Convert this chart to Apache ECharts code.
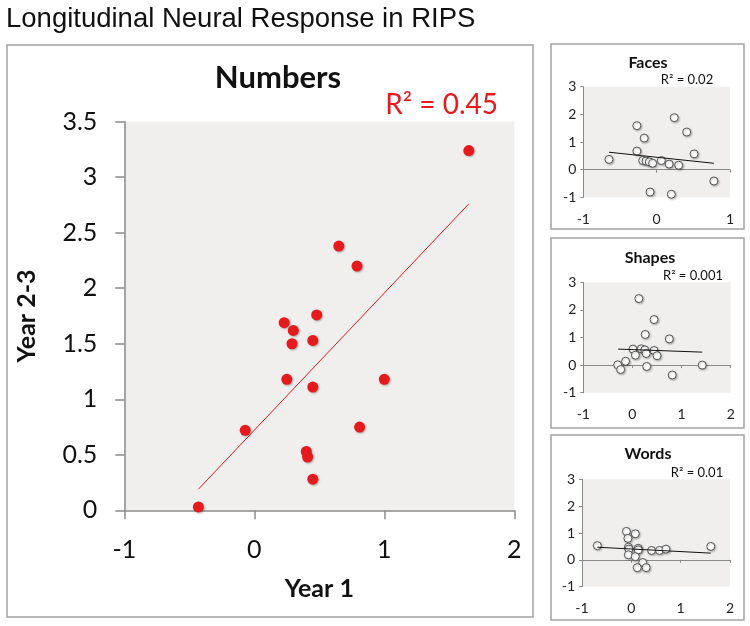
<!DOCTYPE html>
<html>
<head>
<meta charset="utf-8">
<script src="https://cdn.jsdelivr.net/npm/echarts@6/dist/echarts.min.js"></script>
<style>html,body{margin:0;padding:0;background:#fff;}#c{width:750px;height:626px;}</style>
</head>
<body>
<div id="c"></div>
<script>
// ---- data ----
const mainTitle = 'Longitudinal Neural Response in RIPS';
const panelNames = ['Numbers', 'Faces', 'Shapes', 'Words'];
const panelR2 = ['R\u00B2 = 0.45', 'R\u00B2 = 0.02', 'R\u00B2 = 0.001', 'R\u00B2 = 0.01'];
const xAxisName = 'Year 1';
const yAxisName = 'Year 2-3';

const numbersX = [1.65, 0.65, 0.79, 0.48, 0.23, 0.30, 0.29, 0.45, 0.25, 0.45, 1.00, -0.07, 0.81, 0.40, 0.41, 0.45, -0.43];
const numbersY = [3.24, 2.38, 2.20, 1.76, 1.69, 1.62, 1.50, 1.53, 1.18, 1.11, 1.18, 0.72, 0.75, 0.53, 0.48, 0.28, 0.03];
const numbersFitX = [-0.43, 1.65];
const numbersFitY = [0.19, 2.76];

const facesX = [-0.65, -0.27, -0.27, -0.17, -0.19, -0.145, -0.10, -0.055, 0.064, 0.17, 0.30, 0.24, 0.41, 0.51, 0.78, -0.09, 0.20];
const facesY = [0.37, 1.59, 0.67, 1.14, 0.33, 0.31, 0.28, 0.23, 0.33, 0.20, 0.16, 1.88, 1.36, 0.57, -0.41, -0.81, -0.89];
const facesFitX = [-0.65, 0.78];
const facesFitY = [0.63, 0.23];

const shapesX = [0.13, 0.44, 0.26, 0.75, 0.01, 0.18, 0.25, 0.44, 0.06, 0.28, 0.50, -0.30, -0.14, -0.24, 0.29, 0.81, 1.42];
const shapesY = [2.41, 1.65, 1.11, 0.95, 0.58, 0.59, 0.55, 0.53, 0.36, 0.42, 0.34, 0.01, 0.14, -0.16, -0.05, -0.36, 0.00];
const shapesFitX = [-0.29, 1.42];
const shapesFitY = [0.58, 0.47];

const wordsX = [-0.69, -0.10, 0.08, -0.07, -0.06, -0.05, -0.06, 0.14, 0.14, 0.08, 0.23, 0.12, 0.30, 0.41, 0.57, 0.70, 1.61];
const wordsY = [0.53, 1.06, 0.97, 0.80, 0.47, 0.40, 0.19, 0.43, 0.37, 0.12, -0.10, -0.29, -0.29, 0.35, 0.35, 0.40, 0.50];
const wordsFitX = [-0.69, 1.61];
const wordsFitY = [0.47, 0.25];

// axis ranges (tick labels come from these)
const mainXRange = [-1, 2, 1];
const mainYRange = [0, 3.5, 0.5];
const smallXRanges = [[-1, 1, 1], [-1, 2, 1], [-1, 2, 1]];
const smallYRange = [-1, 3, 1];

// ---- build ----
const pairs = (xs, ys) => xs.map((x, i) => [x, ys[i]]);
const FONT = 'Lato';
const AXC = '#8a8a8a';
const BG = '#f0efee';
const RED = '#e51a1c';

const grids = [
  { left: 124.3, top: 121.7, width: 390, height: 388.6 },
  { left: 583.3, top: 86.7, width: 146.7, height: 110.6 },
  { left: 583.3, top: 282.3, width: 147.4, height: 110.4 },
  { left: 582, top: 479.3, width: 148, height: 107.4 }
].map(g => Object.assign({ show: true, backgroundColor: BG, borderWidth: 0 }, g));

const xAxes = [];
const yAxes = [];
// main
xAxes.push({
  gridIndex: 0, type: 'value', min: mainXRange[0], max: mainXRange[1], interval: mainXRange[2],
  position: 'bottom',
  axisLine: { onZero: false, lineStyle: { color: AXC, width: 1.5 } },
  axisTick: { show: true, inside: false, length: 9, lineStyle: { color: AXC, width: 1.5 } },
  axisLabel: { fontFamily: FONT, fontSize: 25, color: '#111', margin: 27 },
  splitLine: { show: false },
  name: xAxisName, nameLocation: 'middle', nameGap: 66,
  nameTextStyle: { fontFamily: FONT, fontSize: 25, fontWeight: 'bold', color: '#111' }
});
yAxes.push({
  gridIndex: 0, type: 'value', min: mainYRange[0], max: mainYRange[1], interval: mainYRange[2],
  axisLine: { show: true, onZero: false, lineStyle: { color: AXC, width: 1.5 } },
  axisTick: { show: true, inside: false, length: 9, lineStyle: { color: AXC, width: 1.5 } },
  axisLabel: { fontFamily: FONT, fontSize: 25, color: '#111', margin: 27 },
  splitLine: { show: false },
  name: yAxisName, nameLocation: 'middle', nameGap: 85, nameRotate: 90,
  nameTextStyle: { fontFamily: FONT, fontSize: 25, fontWeight: 'bold', color: '#111' }
});
// small panels: label axis at bottom + zero line axis
for (let k = 0; k < 3; k++) {
  const gi = k + 1;
  const r = smallXRanges[k];
  xAxes.push({
    gridIndex: gi, type: 'value', min: r[0], max: r[1], interval: r[2], position: 'bottom',
    axisLine: { show: false, onZero: false },
    axisTick: { show: false },
    axisLabel: { fontFamily: FONT, fontSize: 14, color: '#222', margin: 15 },
    splitLine: { show: false }
  });
  xAxes.push({
    gridIndex: gi, type: 'value', min: r[0], max: r[1], interval: r[2], position: 'bottom',
    axisLine: { show: true, onZero: true, lineStyle: { color: AXC, width: 1 } },
    axisTick: { show: true, inside: false, length: 3, lineStyle: { color: AXC, width: 1 } },
    axisLabel: { show: false },
    splitLine: { show: false }
  });
  yAxes.push({
    gridIndex: gi, type: 'value', min: smallYRange[0], max: smallYRange[1], interval: smallYRange[2],
    axisLine: { show: true, onZero: false, lineStyle: { color: AXC, width: 1 } },
    axisTick: { show: true, inside: false, length: 3, lineStyle: { color: AXC, width: 1 } },
    axisLabel: { fontFamily: FONT, fontSize: 14, color: '#222', margin: 7 },
    splitLine: { show: false }
  });
}

const series = [];
series.push({
  type: 'line', xAxisIndex: 0, yAxisIndex: 0, data: pairs(numbersFitX, numbersFitY),
  symbol: 'none', lineStyle: { color: RED, width: 1 }, z: 2, silent: true, animation: false
});
series.push({
  type: 'scatter', xAxisIndex: 0, yAxisIndex: 0, data: pairs(numbersX, numbersY),
  symbol: 'circle', symbolSize: 11,
  itemStyle: { color: RED, opacity: 1, shadowBlur: 2, shadowColor: 'rgba(0,0,0,0.3)', shadowOffsetX: 1, shadowOffsetY: 1 },
  z: 3, animation: false
});
const smallSets = [
  [facesX, facesY, facesFitX, facesFitY],
  [shapesX, shapesY, shapesFitX, shapesFitY],
  [wordsX, wordsY, wordsFitX, wordsFitY]
];
smallSets.forEach((s, k) => {
  const xi = 1 + k * 2; // label axis index
  const yi = 1 + k;
  series.push({
    type: 'line', xAxisIndex: xi, yAxisIndex: yi, data: pairs(s[2], s[3]),
    symbol: 'none', lineStyle: { color: '#111', width: 1 }, z: 4, silent: true, animation: false
  });
  series.push({
    type: 'scatter', xAxisIndex: xi, yAxisIndex: yi, data: pairs(s[0], s[1]),
    symbol: 'circle', symbolSize: 8,
    itemStyle: { color: '#ffffff', opacity: 1, borderColor: '#555', borderWidth: 1, shadowBlur: 2, shadowColor: 'rgba(0,0,0,0.25)', shadowOffsetX: 1, shadowOffsetY: 1 },
    z: 3, animation: false
  });
});

const frame = (x, y, w, h, lw) => ({
  type: 'rect', shape: { x: x, y: y, width: w, height: h },
  style: { fill: 'none', stroke: '#a3a3a3', lineWidth: lw }, z: 0
});
const txt = (s, x, y, size, opts) => ({
  type: 'text', x: x, y: y, z: 10,
  style: Object.assign({ text: s, fontFamily: FONT, fontSize: size, fill: '#111', textAlign: 'center', textVerticalAlign: 'middle', align: 'center', verticalAlign: 'middle' }, opts || {})
});

const graphics = [
  frame(7, 45, 526, 572, 1.5),
  frame(551, 44, 193, 185, 1.5),
  frame(551, 238, 193, 190, 1.5),
  frame(551, 435, 193, 185, 1.5),
  txt(mainTitle, 6, 19, 27.5, { fontFamily: 'Liberation Sans', textAlign: 'left', align: 'left', fill: '#111' }),
  txt(panelNames[0], 278, 78, 31, { fontWeight: 'bold' }),
  txt(panelR2[0], 498, 105, 28, { fill: RED, textAlign: 'right', align: 'right' }),
  txt(panelNames[1], 648, 63, 16, { fontWeight: 'bold' }),
  txt(panelR2[1], 687, 80, 13),
  txt(panelNames[2], 650, 258, 16, { fontWeight: 'bold' }),
  txt(panelR2[2], 693, 276, 13),
  txt(panelNames[3], 648, 454, 16, { fontWeight: 'bold' }),
  txt(panelR2[3], 697, 473, 13)
];

const chart = echarts.init(document.getElementById('c'), null, { renderer: 'canvas' });
chart.setOption({
  animation: false,
  backgroundColor: '#ffffff',
  grid: grids,
  xAxis: xAxes,
  yAxis: yAxes,
  series: series,
  graphic: graphics
});
</script>
</body>
</html>
